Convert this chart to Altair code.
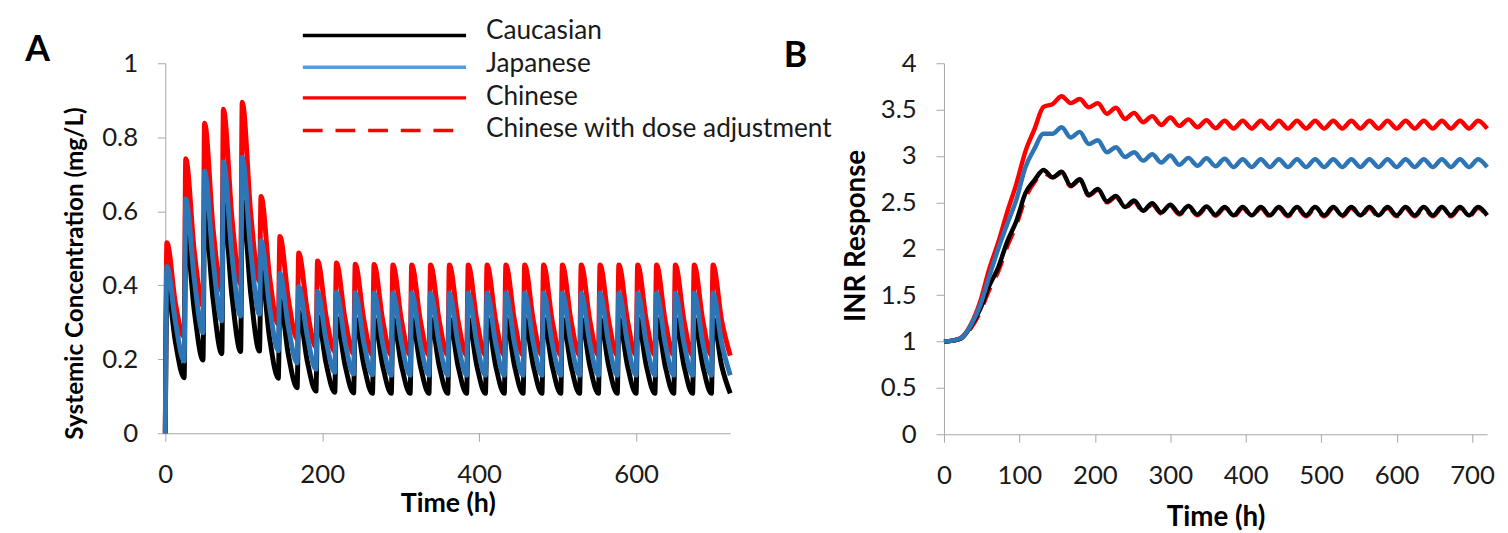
import altair as alt
import pandas as pd

# ---------------- Panel A: systemic concentration (mg/L) ----------------
DOSE_TIMES = [0, 24, 48, 72, 96, 120, 144, 168, 192, 216, 240, 264, 288, 312, 336,
              360, 384, 408, 432, 456, 480, 504, 528, 552, 576, 600, 624, 648, 672, 696]
END_TIME = 720
PEAK_DELAY = 2     # h after dose where the peak is reached
MID_DELAY = 13     # h after dose, mid-decay reading

# Chinese
RED_PEAK = [0.515, 0.742, 0.838, 0.876, 0.895, 0.640, 0.532, 0.487, 0.466, 0.460,
            0.457, 0.456, 0.455, 0.455, 0.455, 0.455, 0.455, 0.455, 0.455, 0.455,
            0.455, 0.455, 0.455, 0.455, 0.455, 0.455, 0.455, 0.455, 0.455, 0.455]
RED_MID = [0.350, 0.490, 0.550, 0.580, 0.590, 0.420, 0.360, 0.330, 0.315, 0.310,
           0.307, 0.306, 0.305, 0.305, 0.305, 0.305, 0.305, 0.305, 0.305, 0.305,
           0.305, 0.305, 0.305, 0.305, 0.305, 0.305, 0.305, 0.305, 0.305, 0.305]
RED_TROUGH = [0.0, 0.260, 0.345, 0.385, 0.403, 0.410, 0.295, 0.255, 0.232, 0.220,
              0.214, 0.211, 0.210, 0.210, 0.210, 0.210, 0.210, 0.210, 0.210, 0.210,
              0.210, 0.210, 0.210, 0.210, 0.210, 0.210, 0.210, 0.210, 0.210, 0.210, 0.210]
# Japanese
BLUE_PEAK = [0.451, 0.633, 0.708, 0.733, 0.746, 0.521, 0.432, 0.397, 0.383, 0.381,
             0.380, 0.379, 0.379, 0.379, 0.379, 0.379, 0.379, 0.379, 0.379, 0.379,
             0.379, 0.379, 0.379, 0.379, 0.379, 0.379, 0.379, 0.379, 0.379, 0.379]
BLUE_MID = [0.300, 0.415, 0.465, 0.480, 0.490, 0.340, 0.285, 0.262, 0.250, 0.247,
            0.245, 0.244, 0.244, 0.244, 0.244, 0.244, 0.244, 0.244, 0.244, 0.244,
            0.244, 0.244, 0.244, 0.244, 0.244, 0.244, 0.244, 0.244, 0.244, 0.244]
BLUE_TROUGH = [0.0, 0.195, 0.272, 0.304, 0.317, 0.322, 0.223, 0.190, 0.173, 0.165,
               0.160, 0.158, 0.157, 0.157, 0.157, 0.157, 0.157, 0.157, 0.157, 0.157,
               0.157, 0.157, 0.157, 0.157, 0.157, 0.157, 0.157, 0.157, 0.157, 0.157, 0.157]
# Caucasian
BLACK_PEAK = [0.400, 0.545, 0.600, 0.620, 0.630, 0.440, 0.360, 0.330, 0.318, 0.313,
              0.311, 0.310, 0.310, 0.310, 0.310, 0.310, 0.310, 0.310, 0.310, 0.310,
              0.310, 0.310, 0.310, 0.310, 0.310, 0.310, 0.310, 0.310, 0.310, 0.310]
BLACK_MID = [0.245, 0.330, 0.360, 0.370, 0.375, 0.256, 0.210, 0.194, 0.188, 0.185,
             0.184, 0.183, 0.183, 0.183, 0.183, 0.183, 0.183, 0.183, 0.183, 0.183,
             0.183, 0.183, 0.183, 0.183, 0.183, 0.183, 0.183, 0.183, 0.183, 0.183]
BLACK_TROUGH = [0.0, 0.150, 0.198, 0.215, 0.221, 0.222, 0.149, 0.123, 0.114, 0.111,
                0.109, 0.108, 0.108, 0.108, 0.108, 0.108, 0.108, 0.108, 0.108, 0.108,
                0.108, 0.108, 0.108, 0.108, 0.108, 0.108, 0.108, 0.108, 0.108, 0.108, 0.108]

# ---------------- Panel B: INR response ----------------
INR_TIME = [0, 12, 24, 36, 48, 60, 72, 84, 96, 108, 120, 132, 144, 156, 168, 180, 192,
            204, 216, 228, 240, 252, 264, 276, 288, 300, 312, 324, 336, 348, 360, 372,
            384, 396, 408, 420, 432, 444, 456, 468, 480, 492, 504, 516, 528, 540, 552,
            564, 576, 588, 600, 612, 624, 636, 648, 660, 672, 684, 696, 708, 720]
INR_CAUCASIAN = [1.00, 1.01, 1.04, 1.17, 1.35, 1.60, 1.80, 2.08, 2.30, 2.60, 2.74, 2.85,
                 2.77, 2.83, 2.68, 2.75, 2.58, 2.645, 2.51, 2.57, 2.45, 2.52, 2.41, 2.49,
                 2.39, 2.475, 2.38, 2.46, 2.37, 2.455, 2.365, 2.45,
                 2.36, 2.45, 2.36, 2.45, 2.36, 2.45, 2.36, 2.45, 2.36, 2.45, 2.36, 2.45,
                 2.36, 2.45, 2.36, 2.45, 2.36, 2.45, 2.36, 2.45, 2.36, 2.45, 2.36, 2.45,
                 2.36, 2.45, 2.36, 2.45, 2.36]
INR_JAPANESE = [1.00, 1.01, 1.045, 1.18, 1.39, 1.70, 2.00, 2.27, 2.53, 2.88, 3.08, 3.24,
                3.24, 3.31, 3.20, 3.26, 3.13, 3.17, 3.04, 3.095, 2.99, 3.04, 2.95, 3.02,
                2.93, 3.005, 2.905, 2.98, 2.895, 2.975, 2.89, 2.97,
                2.88, 2.965, 2.88, 2.965, 2.88, 2.965, 2.88, 2.965, 2.88, 2.965, 2.88, 2.965,
                2.88, 2.965, 2.88, 2.965, 2.88, 2.965, 2.88, 2.965, 2.88, 2.965, 2.88, 2.965,
                2.88, 2.965, 2.88, 2.965, 2.88]
INR_CHINESE = [1.00, 1.01, 1.05, 1.19, 1.43, 1.78, 2.07, 2.40, 2.70, 3.05, 3.29, 3.53,
               3.56, 3.645, 3.57, 3.615, 3.525, 3.57, 3.455, 3.52, 3.40, 3.465, 3.365, 3.43,
               3.335, 3.415, 3.325, 3.395, 3.31, 3.385, 3.30, 3.38,
               3.295, 3.38, 3.295, 3.38, 3.295, 3.38, 3.295, 3.38, 3.295, 3.38, 3.295, 3.38,
               3.295, 3.38, 3.295, 3.38, 3.295, 3.38, 3.295, 3.38, 3.295, 3.38, 3.295, 3.38,
               3.295, 3.38, 3.295, 3.38, 3.295]
INR_CHINESE_ADJ = [1.00, 1.01, 1.035, 1.15, 1.32, 1.56, 1.76, 2.03, 2.26, 2.55, 2.72, 2.82,
                   2.77, 2.82, 2.675, 2.74, 2.575, 2.635, 2.50, 2.56, 2.44, 2.51, 2.40, 2.48,
                   2.38, 2.465, 2.37, 2.45, 2.36, 2.445, 2.355, 2.44,
                   2.35, 2.44, 2.35, 2.44, 2.35, 2.44, 2.35, 2.44, 2.35, 2.44, 2.35, 2.44,
                   2.35, 2.44, 2.35, 2.44, 2.35, 2.44, 2.35, 2.44, 2.35, 2.44, 2.35, 2.44,
                   2.35, 2.44, 2.35, 2.44, 2.35]

LEGEND_LABELS = ["Caucasian", "Japanese", "Chinese", "Chinese with dose adjustment"]
A_TICKS_X = [0, 200, 400, 600]
A_TICKS_Y = [0, 0.2, 0.4, 0.6, 0.8, 1]
B_TICKS_X = [0, 100, 200, 300, 400, 500, 600, 700]
B_TICKS_Y = [0, 0.5, 1, 1.5, 2, 2.5, 3, 3.5, 4]

BLACK = "#000000"
BLUE = "#2E75B6"
BLUE_LEG = "#5B9BD5"
RED = "#FF0000"
FONT = "Lato"
GRAY = "#A6A6A6"
TXT = "#1a1a1a"


def conc_frame(peaks, mids, troughs):
    rows = []
    for k, d in enumerate(DOSE_TIMES):
        rows.append({"t": d, "v": troughs[k]})
        rows.append({"t": d + PEAK_DELAY, "v": peaks[k]})
        rows.append({"t": d + MID_DELAY, "v": mids[k]})
    rows.append({"t": END_TIME, "v": troughs[-1]})
    return pd.DataFrame(rows)


axis_common = dict(domainColor=GRAY, tickColor=GRAY, labelFont=FONT, labelFontSize=26,
                   labelColor=TXT, titleFont=FONT, titleFontWeight="bold", titleColor="#000",
                   grid=False, tickSize=8)

xA = alt.X("t:Q", scale=alt.Scale(domain=[0, 720], nice=False, zero=False),
           axis=alt.Axis(values=A_TICKS_X, title="Time (h)", labelPadding=21, labelFlush=False,
                         titlePadding=3, titleFontSize=27, **axis_common))
yA = alt.Y("v:Q", scale=alt.Scale(domain=[0, 1], nice=False),
           axis=alt.Axis(values=A_TICKS_Y, format="~g", title="Systemic Concentration (mg/L)",
                         labelPadding=20, titlePadding=14, titleFontSize=24.5, titleY=212,
                         **axis_common))

def conc_line(df, color):
    return alt.Chart(df).mark_line(color=color, strokeWidth=5, interpolate="monotone",
                                   strokeJoin="round").encode(x=xA, y=yA)

red_A = conc_line(conc_frame(RED_PEAK, RED_MID, RED_TROUGH), RED)
black_A = conc_line(conc_frame(BLACK_PEAK, BLACK_MID, BLACK_TROUGH), BLACK)
blue_A = conc_line(conc_frame(BLUE_PEAK, BLUE_MID, BLUE_TROUGH), BLUE)

# legend (manual), positioned relative to panel A plot area
leg_layers = []
leg_colors = [BLACK, BLUE_LEG, RED, RED]
leg_line_y = [-28, 4, 35, 68]
leg_text_y = [-33, 1, 34, 67]
for i, lab in enumerate(LEGEND_LABELS):
    one = pd.DataFrame({"label": [lab]})
    kw = dict(color=leg_colors[i], strokeWidth=3.5)
    if i == 3:
        kw["strokeDash"] = [20, 13]
    leg_layers.append(alt.Chart(one).mark_rule(**kw).encode(
        x=alt.value(139), x2=alt.value(304), y=alt.value(leg_line_y[i])))
    leg_layers.append(alt.Chart(one).mark_text(
        align="left", baseline="middle", font=FONT, fontSize=26.5, color=TXT).encode(
        x=alt.value(324), y=alt.value(leg_text_y[i]), text="label:N"))

label_A = alt.Chart(pd.DataFrame({"label": ["A"]})).mark_text(
    align="center", baseline="middle", font=FONT, fontSize=36, fontWeight="bold", color="#000"
).encode(x=alt.value(-129), y=alt.value(-13), text="label:N")

panel_A = alt.layer(red_A, black_A, blue_A, label_A, *leg_layers).properties(width=571, height=374)

# ---------------- panel B ----------------
inr_df = pd.DataFrame({"t": INR_TIME, "adj": INR_CHINESE_ADJ, "chn": INR_CHINESE,
                       "cau": INR_CAUCASIAN, "jap": INR_JAPANESE})

xB = alt.X("t:Q", scale=alt.Scale(domain=[0, 720], nice=False, zero=False),
           axis=alt.Axis(values=B_TICKS_X, title="Time (h)", labelPadding=21, labelFlush=False,
                         titlePadding=15, titleFontSize=28, **axis_common))

def inr_line(field, color, dash=None):
    kw = dict(color=color, strokeWidth=4.5, interpolate="monotone", strokeJoin="round")
    if dash:
        kw["strokeDash"] = dash
    return alt.Chart(inr_df).mark_line(**kw).encode(
        x=xB,
        y=alt.Y(f"{field}:Q", scale=alt.Scale(domain=[0, 4], nice=False),
                axis=alt.Axis(values=B_TICKS_Y, format="~g", title="INR Response",
                              labelPadding=20, titlePadding=10, titleFontSize=28, titleY=174,
                              **axis_common)))

label_B = alt.Chart(pd.DataFrame({"label": ["B"]})).mark_text(
    align="center", baseline="middle", font=FONT, fontSize=36, fontWeight="bold", color="#000"
).encode(x=alt.value(-150), y=alt.value(-7), text="label:N")

panel_B = alt.layer(inr_line("adj", RED, [18, 12]), inr_line("chn", RED),
                    inr_line("cau", BLACK), inr_line("jap", BLUE), label_B
                    ).properties(width=549, height=375)

chart = alt.hconcat(panel_A, panel_B, spacing=216, bounds="flush").properties(
    padding={"left": 17, "top": 7, "right": 5, "bottom": 5}
).configure_view(stroke=None)

chart.save("out.html", embed_options={"renderer": "svg", "actions": False})
